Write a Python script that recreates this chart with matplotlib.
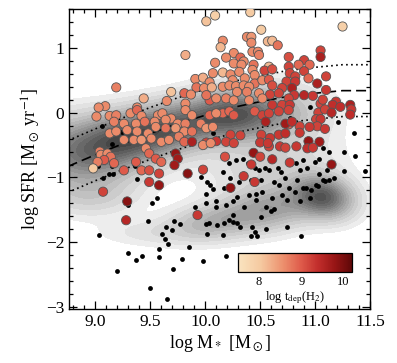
import matplotlib
matplotlib.use("Agg")
import matplotlib.pyplot as plt
import numpy as np
from matplotlib.colors import LinearSegmentedColormap, Normalize
from matplotlib.ticker import MultipleLocator, FormatStrFormatter

plt.rcParams["font.family"] = ["Liberation Serif", "DejaVu Serif"]
plt.rcParams["mathtext.fontset"] = "stix"

# ---------------------------------------------------------------------------
# Data
# ---------------------------------------------------------------------------

# CO detections: stellar mass, SFR, depletion time (colour)
det_logm = [
    10.09, 10.01, 9.82, 10.09, 10.07, 9.19, 9.91, 9.98, 10.04, 9.92,
    9.99, 10.06, 9.69, 9.81, 9.87, 9.44, 9.65, 9.09, 9.03, 9.38,
    9.82, 10.04, 10.10, 10.01, 10.41, 11.25, 10.51, 10.16, 10.38, 10.42,
    10.42, 10.57, 10.61, 10.66, 10.14, 10.26, 10.43, 10.48, 10.49, 10.19,
    10.32, 10.35, 10.76, 11.05, 11.05, 10.90, 10.26, 10.33, 10.44, 10.76,
    10.85, 10.95, 10.58, 10.16, 10.23, 10.31, 10.43, 10.45, 10.54, 10.61,
    10.77, 10.82, 10.90, 10.94, 11.10, 10.25, 10.36, 10.45, 10.52, 10.58,
    10.74, 10.82, 11.02, 10.16, 10.22, 10.28, 10.35, 10.40, 10.61, 10.70,
    10.79, 11.10, 10.29, 10.38, 10.49, 10.59, 10.67, 10.81, 10.90, 10.98,
    10.19, 10.26, 10.40, 10.52, 10.76, 11.19, 11.32, 10.61, 10.70, 10.77,
    11.05, 11.16, 11.33, 11.32, 11.23, 11.07, 11.03, 11.09, 11.15, 11.01,
    11.05, 11.02, 10.86, 10.86, 10.76, 10.94, 10.83, 10.67, 10.68, 10.59,
    10.58, 10.51, 10.50, 10.44, 10.61, 10.77, 10.42, 10.35, 11.15, 9.98,
    10.23, 10.32, 10.01, 10.10, 10.16, 10.22, 10.26, 10.45, 10.52, 10.58,
    10.67, 10.76, 10.55, 10.73, 10.79, 10.95, 11.09, 10.73, 11.04, 10.19,
    10.26, 10.57, 10.73, 10.93, 10.98, 10.50, 10.18, 10.45, 10.23, 9.01,
    9.13, 9.19, 9.32, 9.38, 9.42, 9.57, 9.61, 9.69, 9.82, 9.88,
    10.04, 10.10, 9.17, 9.26, 9.37, 9.45, 9.54, 9.64, 9.75, 9.82,
    9.96, 9.13, 9.19, 9.29, 9.38, 9.48, 9.55, 9.64, 9.73, 9.81,
    9.88, 10.01, 10.07, 9.26, 9.35, 9.42, 9.51, 9.60, 9.67, 9.76,
    9.81, 9.88, 9.98, 10.05, 9.04, 9.05, 9.11, 9.14, 9.08, 9.02,
    8.98, 9.17, 9.26, 9.37, 9.46, 9.49, 9.55, 9.60, 9.42, 9.49,
    9.58, 9.73, 9.75, 9.72, 9.84, 9.49, 9.58, 9.07, 9.29, 9.28,
    9.93,
]
det_logsfr = [
    1.50, 1.41, 0.89, 0.77, 0.61, 0.39, 0.52, 0.54, 0.47, 0.39,
    0.38, 0.39, 0.32, 0.30, 0.28, 0.22, 0.18, 0.10, 0.08, 0.08,
    0.14, 0.19, 0.22, 0.27, 1.55, 1.33, 1.28, 1.11, 1.17, 1.17,
    1.08, 1.10, 1.11, 1.04, 1.01, 0.92, 0.94, 0.94, 0.89, 0.85,
    0.85, 0.79, 0.86, 0.96, 0.86, 0.81, 0.76, 0.74, 0.74, 0.71,
    0.74, 0.74, 0.71, 0.62, 0.59, 0.63, 0.66, 0.58, 0.65, 0.67,
    0.61, 0.56, 0.64, 0.53, 0.56, 0.50, 0.53, 0.45, 0.50, 0.51,
    0.48, 0.48, 0.45, 0.40, 0.42, 0.41, 0.42, 0.40, 0.42, 0.38,
    0.38, 0.35, 0.32, 0.32, 0.30, 0.28, 0.30, 0.27, 0.27, 0.26,
    0.22, 0.19, 0.19, 0.22, 0.22, 0.17, 0.12, 0.12, 0.12, 0.12,
    0.14, 0.12, 0.05, -0.03, 0.09, 0.20, 0.00, 0.05, 0.00, -0.10,
    -0.10, -0.21, -0.21, -0.31, -0.18, -0.44, -0.52, -0.34, -0.52, -0.39,
    -0.52, -0.34, -0.46, -0.62, -0.72, -0.77, -0.80, -0.98, -0.80, -0.88,
    -0.34, -0.35, -0.46, -0.44, -0.01, 0.02, -0.04, 0.02, -0.04, -0.01,
    0.02, 0.04, -0.14, -0.17, -0.14, -0.22, -0.25, -0.32, -0.45, -0.45,
    -0.47, -0.47, -0.54, -0.55, -0.54, -0.68, -0.68, -1.07, -1.16, -0.06,
    -0.05, -0.04, -0.01, 0.04, -0.05, -0.04, -0.01, -0.09, 0.04, -0.04,
    -0.04, -0.01, -0.14, -0.17, -0.17, -0.14, -0.14, -0.11, -0.17, -0.17,
    -0.17, -0.32, -0.29, -0.27, -0.29, -0.32, -0.22, -0.24, -0.24, -0.29,
    -0.29, -0.24, -0.22, -0.42, -0.42, -0.42, -0.40, -0.45, -0.42, -0.37,
    -0.45, -0.45, -0.50, -0.47, -0.60, -0.65, -0.63, -0.68, -0.73, -0.76,
    -0.86, -0.78, -0.89, -0.76, -0.55, -0.63, -0.71, -0.76, -0.89, -0.89,
    -0.94, -0.63, -0.71, -0.81, -0.94, -1.07, -1.12, -1.22, -1.37, -1.66,
    -1.58,
]
det_tdep = [
    7.9, 8.1, 8.3, 8.6, 8.6, 8.7, 8.6, 8.3, 8.6, 8.8,
    8.6, 8.3, 8.1, 8.9, 8.6, 8.3, 8.6, 8.6, 8.6, 8.6,
    8.6, 9.0, 8.6, 8.8, 8.0, 7.9, 8.0, 8.6, 8.6, 8.5,
    8.6, 8.2, 8.2, 8.8, 8.2, 8.6, 8.6, 8.6, 8.7, 8.6,
    8.9, 8.6, 9.1, 9.2, 9.6, 9.2, 8.6, 8.6, 8.8, 9.2,
    8.9, 8.9, 8.2, 8.2, 8.6, 8.6, 8.6, 8.6, 9.2, 9.1,
    9.2, 9.2, 9.2, 8.9, 9.2, 8.6, 8.6, 8.8, 8.6, 9.0,
    9.2, 9.3, 9.6, 8.6, 8.6, 8.6, 8.6, 8.6, 9.1, 9.2,
    9.6, 9.3, 8.6, 8.7, 8.6, 9.2, 9.2, 9.3, 9.5, 9.3,
    8.7, 8.6, 8.6, 8.6, 9.2, 9.3, 9.6, 9.3, 9.2, 9.3,
    9.2, 9.4, 9.3, 9.4, 9.4, 9.2, 9.2, 9.2, 9.5, 9.2,
    9.3, 9.2, 9.2, 9.3, 9.0, 9.8, 9.3, 9.3, 9.3, 9.3,
    9.2, 9.2, 9.3, 9.8, 9.5, 9.3, 9.3, 9.3, 9.8, 9.2,
    9.2, 9.2, 9.2, 9.3, 8.9, 8.9, 9.0, 9.0, 9.2, 9.2,
    9.2, 9.2, 9.6, 9.7, 9.4, 9.3, 9.3, 9.4, 9.7, 9.2,
    9.2, 9.3, 9.2, 9.4, 9.3, 9.2, 9.1, 9.3, 9.8, 8.6,
    8.6, 8.7, 8.6, 8.9, 8.6, 8.6, 8.6, 8.6, 8.6, 8.6,
    8.9, 8.6, 8.7, 8.6, 8.6, 8.8, 8.6, 8.6, 8.6, 8.7,
    8.7, 8.6, 8.6, 8.6, 8.6, 8.6, 8.6, 8.8, 8.5, 8.6,
    8.8, 8.5, 8.6, 8.6, 8.6, 8.5, 8.6, 8.6, 8.6, 8.7,
    8.9, 9.6, 8.6, 8.6, 8.7, 8.6, 8.6, 8.8, 9.0, 8.7,
    8.0, 8.9, 9.0, 9.0, 8.6, 8.9, 9.0, 8.9, 8.9, 9.1,
    9.2, 9.8, 9.7, 9.7, 9.9, 9.3, 9.8, 9.2, 9.9, 9.5,
    9.3,
]

# CO non-detections (black dots)
nd_logm = [
    9.99, 9.06, 9.24, 9.15, 9.02, 9.07, 9.16, 9.12, 9.38, 10.07,
    9.56, 9.52, 9.91, 10.01, 10.10, 10.10, 9.96, 10.02, 10.04, 9.03,
    9.20, 9.30, 9.30, 9.37, 9.42, 9.48, 9.50, 9.58, 9.58, 9.65,
    9.61, 9.63, 9.66, 9.64, 9.70, 9.72, 9.77, 9.71, 9.79, 9.85,
    9.98, 10.01, 10.03, 10.02, 10.11, 10.17, 10.22, 10.25, 10.25, 10.29,
    10.32, 10.16, 10.43, 10.45, 10.42, 10.47, 10.51, 10.55, 10.60, 10.63,
    10.74, 10.87, 10.19, 10.01, 10.07, 10.92, 11.03, 11.09,
    11.21, 11.35, 11.26, 11.36, 11.45, 11.26, 11.07, 11.13,
    11.04, 11.00, 10.89, 10.83, 10.86, 10.93, 11.04, 11.11, 11.17, 11.13,
    11.07, 11.01, 10.96, 10.89, 10.84, 10.73, 10.69, 10.66, 10.58, 10.54,
    10.49, 10.45, 10.39, 10.34, 10.28, 10.22, 10.16, 10.23, 10.17, 10.31,
    10.42, 10.51, 10.63, 10.67, 10.76, 10.82, 10.52, 10.46, 10.40, 10.29,
    10.25, 10.19, 10.61, 10.70, 10.74, 10.86, 10.95, 10.46, 10.55, 10.35,
    10.77, 10.95, 9.15, 9.36,
]
nd_logsfr = [
    0.30, -0.20, -0.30, -0.49, -0.83, -1.01, -0.94, -0.95, -1.03, -0.32,
    -1.32, -1.40, -1.45, -1.40, -1.37, -1.45, -0.99, -1.07, -1.12, -1.89,
    -2.45, -1.42, -2.17, -2.28, -2.21, -1.67, -2.70, -2.11, -2.23, -2.87,
    -1.87, -1.95, -2.02, -1.76, -1.81, -1.67, -1.72, -2.41, -2.26, -2.07,
    -2.29, -1.72, -1.71, -1.88, -1.74, -1.71, -1.66, -1.58, -1.68, -1.71,
    -1.76, -1.89, -1.76, -1.84, -1.91, -1.91, -1.61, -1.80, -1.52, -1.49,
    -1.76, -1.91, -2.21, -1.26, -1.18, -1.16, -1.13, -1.06,
    -0.15, -0.32, -0.60, -0.67, -0.90, -0.90, -0.55, -0.60,
    -0.71, -0.76, -0.73, -0.78, -0.89, -0.86, -0.94, -0.89, -1.01, -1.04,
    -1.04, -1.12, -1.20, -1.17, -1.04, -1.01, -0.91, -0.86, -0.89, -0.86,
    -0.89, -0.86, -0.78, -0.71, -0.73, -0.78, -0.91, -1.01, -1.17, -1.07,
    -1.04, -1.04, -1.07, -1.12, -1.17, -1.22, -1.22, -1.25, -1.27, -1.30,
    -1.37, -1.43, -1.32, -1.27, -1.35, -1.37, -1.32, -1.35, -1.45, -1.45,
    -0.08, 0.08, -0.82, -0.82,
]

# Star-forming main sequence (dashed) and its +/-0.4 dex scatter (dotted)
ms_logm = [8.75, 9.0, 9.25, 9.5, 9.75, 10.0, 10.25, 10.5, 10.75, 11.0, 11.25, 11.5]
ms_logsfr = [-0.83, -0.65, -0.48, -0.32, -0.17, -0.04, 0.08, 0.17, 0.25, 0.30, 0.34, 0.34]
ms_scatter = 0.4

# Parent-sample density (grey background): blob centres, widths, tilt, weight
blob_logm = [8.85, 9.30, 9.75, 10.25, 10.65, 8.95, 9.45, 10.60, 11.08, 10.60, 10.05]
blob_logsfr = [-0.65, -0.40, -0.20, -0.02, 0.00, -1.30, -1.85, -0.80, -1.30, -1.48, -1.70]
blob_along = [0.32, 0.30, 0.30, 0.27, 0.30, 0.28, 0.30, 0.40, 0.17, 0.32, 0.28]
blob_across = [0.36, 0.27, 0.25, 0.25, 0.28, 0.20, 0.14, 0.38, 0.22, 0.22, 0.18]
blob_slope = [0.55, 0.50, 0.45, 0.30, 0.10, 0.00, 0.00, 0.30, 0.40, 0.40, 0.30]
blob_weight = [0.85, 0.95, 0.85, 0.95, 0.45, 0.22, 0.12, 0.26, 1.05, 0.6, 0.45]

XLIM = (8.76, 11.5)
YLIM = (-3.03, 1.6)
TDEP_RANGE = (7.5, 10.2)

tdep_cmap = LinearSegmentedColormap.from_list(
    "tdep",
    [(0.0, "#fae4c0"), (0.2, "#f5c9a0"), (0.4, "#ec8e6c"), (0.55, "#df5c4b"),
     (0.7, "#c22e2c"), (0.85, "#971515"), (1.0, "#5e0808")],
)


def density_grid():
    gx = np.linspace(XLIM[0], XLIM[1], 300)
    gy = np.linspace(YLIM[0], YLIM[1], 300)
    X, Y = np.meshgrid(gx, gy)
    Z = np.zeros_like(X)
    for cx, cy, sa, sp, sl, w in zip(blob_logm, blob_logsfr, blob_along,
                                     blob_across, blob_slope, blob_weight):
        th = np.arctan(sl)
        dx, dy = X - cx, Y - cy
        u = dx * np.cos(th) + dy * np.sin(th)
        v = -dx * np.sin(th) + dy * np.cos(th)
        Z += w * np.exp(-0.5 * ((u / sa) ** 2 + (v / sp) ** 2))
    return X, Y, Z / Z.max()


def main() -> None:
    fig = plt.figure(figsize=(3.97, 3.63), dpi=100)
    ax = fig.add_axes([0.1738, 0.1488, 0.7582, 0.8264])

    X, Y, Z = density_grid()
    levels = np.concatenate([[0.04, 0.08, 0.13], np.linspace(0.19, 1.01, 14)])
    greys = [str(g) for g in np.linspace(0.93, 0.28, len(levels) - 1)]
    ax.contourf(X, Y, Z, levels=levels, colors=greys, zorder=0)

    ms = np.array(ms_logsfr)
    ax.plot(ms_logm, ms, color="black", ls=(0, (6, 3)), lw=1.2, zorder=2)
    ax.plot(ms_logm, ms + ms_scatter, color="black", ls=(0, (1, 2)), lw=1.2, zorder=2)
    ax.plot(ms_logm, ms - ms_scatter, color="black", ls=(0, (1, 2)), lw=1.2, zorder=2)

    ax.scatter(nd_logm, nd_logsfr, s=12, color="black", linewidths=0, zorder=3)
    norm = Normalize(*TDEP_RANGE)
    sc = ax.scatter(det_logm, det_logsfr, c=det_tdep, cmap=tdep_cmap, norm=norm,
                    s=44, edgecolors="#555555", linewidths=0.6, zorder=4)

    ax.set_xlim(*XLIM)
    ax.set_ylim(*YLIM)
    ax.xaxis.set_major_locator(MultipleLocator(0.5))
    ax.xaxis.set_minor_locator(MultipleLocator(0.1))
    ax.yaxis.set_major_locator(MultipleLocator(1))
    ax.yaxis.set_minor_locator(MultipleLocator(0.2))
    ax.xaxis.set_major_formatter(FormatStrFormatter("%.1f"))
    ax.tick_params(which="both", direction="in", top=True, right=True,
                   labelsize=12.5, width=0.9)
    ax.tick_params(which="major", length=6)
    ax.tick_params(which="minor", length=3)
    for sp in ax.spines.values():
        sp.set_linewidth(1.0)
    ax.set_xlabel(r"log M$_*$ [M$_\odot$]", fontsize=13, labelpad=2)
    ax.set_ylabel(r"log SFR [M$_\odot$ yr$^{-1}$]", fontsize=13, labelpad=2)

    cax = fig.add_axes([0.5995, 0.2507, 0.2872, 0.0523])
    cb = fig.colorbar(sc, cax=cax, orientation="horizontal", ticks=[8, 9, 10])
    cb.outline.set_linewidth(0.9)
    cax.tick_params(length=0, labelsize=9, pad=3)
    cb.set_label(r"log t$_{\rm dep}$(H$_2$)", fontsize=9, labelpad=1)

    fig.savefig("out.png", dpi=100)
    plt.close(fig)


if __name__ == "__main__":
    main()
